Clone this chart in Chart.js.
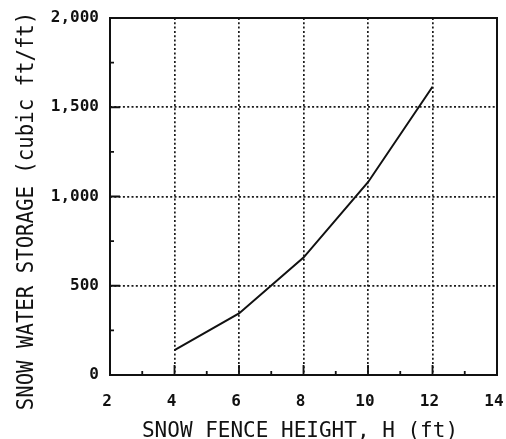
<!DOCTYPE html>
<html><head><meta charset="utf-8">
<script src="https://cdn.jsdelivr.net/npm/chart.js@4"></script>
<style>html,body{margin:0;padding:0;background:#fff}</style>
</head><body>
<canvas id="c" width="506" height="439"></canvas>
<script>
const fenceHeights = [4, 6, 8, 10, 12];
const waterStorage = [140, 345, 658, 1080, 1615];
const xTickLabels = ['2', '4', '6', '8', '10', '12', '14'];
const yTickLabels = ['0', '500', '1,000', '1,500', '2,000'];
const xTitle = 'SNOW FENCE HEIGHT, H (ft)';
const yTitle = 'SNOW WATER STORAGE (cubic ft/ft)';

const points = fenceHeights.map((h, i) => ({x: h, y: waterStorage[i]}));

const frameTicks = {
  id: 'frameTicks',
  afterDatasetsDraw(chart) {
    const {ctx, chartArea: a, scales: {x, y}} = chart;
    ctx.save();
    ctx.strokeStyle = '#111';
    ctx.setLineDash([]);
    ctx.lineWidth = 2;
    ctx.strokeRect(a.left, a.top, a.right - a.left, a.bottom - a.top);
    ctx.lineWidth = 1.8;
    ctx.beginPath();
    for (let v = 3; v < 14; v++) {
      const px = x.getPixelForValue(v);
      const len = v % 2 === 0 ? 10 : 4;
      ctx.moveTo(px, a.bottom); ctx.lineTo(px, a.bottom - len);
    }
    for (let v = 250; v < 2000; v += 250) {
      const py = y.getPixelForValue(v);
      const len = v % 500 === 0 ? 10 : 4;
      ctx.moveTo(a.left, py); ctx.lineTo(a.left + len, py);
    }
    ctx.stroke();
    ctx.restore();
  }
};

const axisTitles = {
  id: 'axisTitles',
  afterDraw(chart) {
    const {ctx} = chart;
    ctx.save();
    ctx.fillStyle = '#111';
    ctx.textAlign = 'center';
    ctx.textBaseline = 'alphabetic';
    ctx.font = '21px "DejaVu Sans Mono"';
    ctx.fillText(xTitle, 300, 437);
    ctx.translate(33, 211);
    ctx.rotate(-Math.PI / 2);
    ctx.scale(1, 1.15);
    ctx.font = '20.7px "DejaVu Sans Mono"';
    ctx.fillText(yTitle, 0, 0);
    ctx.restore();
  }
};

new Chart(document.getElementById('c'), {
  type: 'scatter',
  data: {
    datasets: [{
      data: points,
      showLine: true,
      borderColor: '#111',
      borderWidth: 2,
      pointRadius: 0,
      tension: 0
    }]
  },
  options: {
    responsive: false,
    animation: false,
    events: [],
    layout: {padding: {left: 0, right: 9, top: 18, bottom: 0}},
    plugins: {legend: {display: false}, tooltip: {enabled: false}},
    scales: {
      x: {
        type: 'linear', min: 2, max: 14,
        afterFit(s) { s.height = 64; s.paddingLeft = 0; s.paddingRight = 0; },
        afterBuildTicks(s) { s.ticks = xTickLabels.map(t => ({value: Number(t)})); },
        ticks: {
          color: '#111', padding: 17, labelOffset: -3, maxRotation: 0,
          font: {family: 'DejaVu Sans Mono', size: 16, weight: 'bold'},
          callback: (v, i) => xTickLabels[i]
        },
        grid: {color: '#1a1a1a', lineWidth: 1.7, drawTicks: false},
        border: {display: false, dash: [2, 2.3]}
      },
      y: {
        type: 'linear', min: 0, max: 2000,
        afterFit(s) { s.width = 110; s.paddingTop = 0; s.paddingBottom = 0; },
        afterBuildTicks(s) { s.ticks = yTickLabels.map(t => ({value: Number(t.replace(',', ''))})); },
        ticks: {
          color: '#111', padding: 11,
          font: {family: 'DejaVu Sans Mono', size: 16, weight: 'bold'},
          callback: (v, i) => yTickLabels[i]
        },
        grid: {color: '#1a1a1a', lineWidth: 1.7, drawTicks: false},
        border: {display: false, dash: [2, 2.3]}
      }
    }
  },
  plugins: [frameTicks, axisTitles]
});
</script>
</body></html>
